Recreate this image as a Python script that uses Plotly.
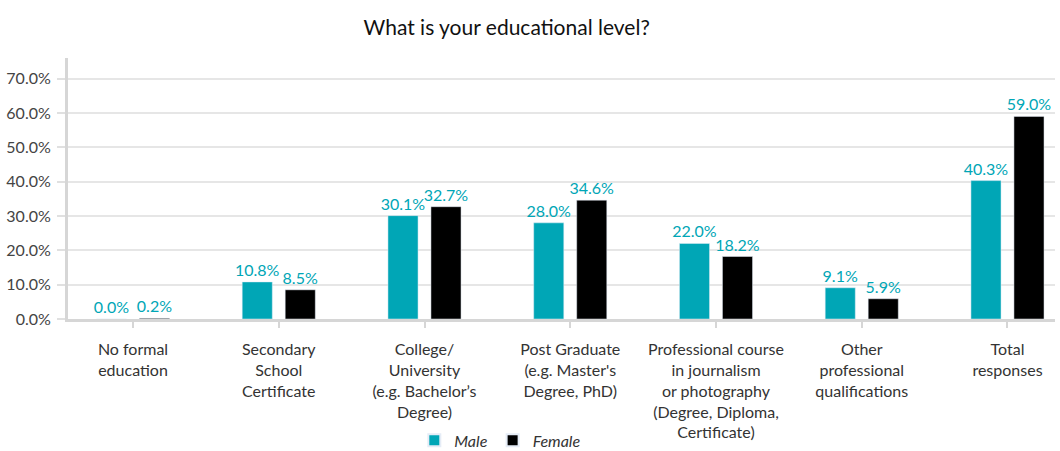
import plotly.graph_objects as go

categories = [
    "No formal<br>education",
    "Secondary<br>School<br>Certificate",
    "College/<br>University<br>(e.g. Bachelor’s<br>Degree)",
    "Post Graduate<br>(e.g. Master's<br>Degree, PhD)",
    "Professional course<br>in journalism<br>or photography<br>(Degree, Diploma,<br>Certificate)",
    "Other<br>professional<br>qualifications",
    "Total<br>responses",
]
male = [0.0, 10.8, 30.1, 28.0, 22.0, 9.1, 40.3]
female = [0.2, 8.5, 32.7, 34.6, 18.2, 5.9, 59.0]
y_ticks = [0, 10, 20, 30, 40, 50, 60, 70]
y_ticktext = [f"{v:.1f}%" for v in y_ticks]

TEAL = "#00A6B6"
FONT = "Lato"

fig = go.Figure()
fig.add_trace(go.Bar(
    name="Male", x=categories, y=male, marker_color=TEAL,
    texttemplate="%{y:.1f}%", textposition="outside", constraintext="none",
    textfont=dict(color=TEAL, size=16, family=FONT), cliponaxis=False,
))
fig.add_trace(go.Bar(
    name="Female", x=categories, y=female, marker_color="#000000",
    texttemplate="%{y:.1f}%", textposition="outside", constraintext="none",
    textfont=dict(color=TEAL, size=16, family=FONT), cliponaxis=False,
))

fig.update_layout(
    width=1060, height=451,
    margin=dict(l=68, r=5, t=58, b=132, autoexpand=False),
    paper_bgcolor="white", plot_bgcolor="white",
    font=dict(family=FONT, size=16, color="#333333"),
    title=dict(text="What is your educational level?", x=0.478, xanchor="center",
               y=0.938, yanchor="middle", font=dict(size=21, color="#111111", family=FONT)),
    barmode="group", bargap=0.41, bargroupgap=0.30,
    legend=dict(orientation="h", x=0.438, xanchor="center", y=-0.465, yanchor="middle",
                font=dict(size=16, style="italic", color="#333333", family=FONT),
                itemsizing="constant", tracegroupgap=0),
)
fig.update_xaxes(
    type="category", range=[-0.446, 6.326], automargin=False,
    showline=True, linecolor="#d6d6d6", linewidth=3,
    ticks="outside", ticklen=6, tickwidth=2, tickcolor="#d6d6d6",
    ticklabelstandoff=8,
    tickfont=dict(size=16, color="#333333"), showgrid=False,
)
fig.update_yaxes(
    range=[0, 76], tickvals=y_ticks, ticktext=y_ticktext, automargin=False,
    showline=True, linecolor="#d6d6d6", linewidth=3,
    ticks="outside", ticklen=8, tickwidth=2, tickcolor="#e0e0e0",
    ticklabelstandoff=3,
    showgrid=True, gridcolor="#e6e6e6", gridwidth=2, zeroline=False,
    tickfont=dict(size=16, color="#444444"),
)

fig.write_html("out.html", config={"displayModeBar": False},
               post_script="document.body.style.margin='0';document.body.style.overflow='hidden';")
